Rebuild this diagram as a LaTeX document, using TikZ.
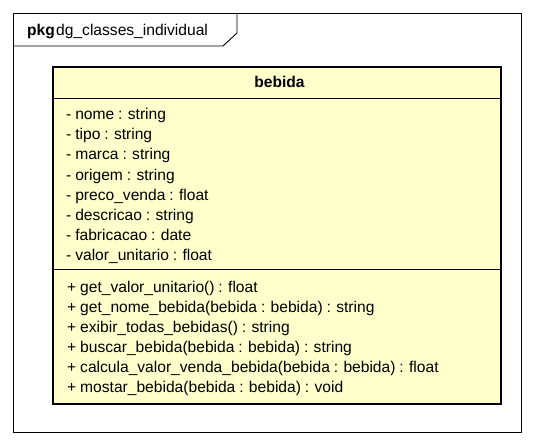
\documentclass[tikz,border=0pt]{standalone}
\usepackage{fontspec}
\setmainfont{Liberation Sans}[WordSpace=0.9]
\usetikzlibrary{positioning}
\definecolor{umlyellow}{HTML}{FFFFCC}
\tikzset{
    pkgframe/.style = {draw=black, line width=0.9pt},
    classbox/.style = {rectangle, draw=black, line width=2.6pt, fill=umlyellow, minimum width=448pt, minimum height=337pt, inner sep=0pt},
    sepline/.style = {draw=black, line width=0.9pt},
    member/.style = {anchor=base west, inner sep=0pt, font=\fontsize{15.6}{18}\selectfont},
    classname/.style = {anchor=base, inner sep=0pt, font=\fontsize{15.6}{18}\selectfont\bfseries},
    tabtext/.style = {anchor=base west, inner sep=0pt, font=\fontsize{15.6}{18}\selectfont}
}

\begin{document}
\begin{tikzpicture}[x=1pt, y=-1pt]
  \useasboundingbox (0,0) rectangle (534,446);

  % package frame with its tab
  \draw[pkgframe] (13,13) rectangle (521,432);
  \draw[pkgframe] (13,46) -- (223,46) -- (237,33) -- (237,13);
  \node[tabtext] (pkgkw) at (27,35.5) {\bfseries pkg};
  \node[tabtext] (pkgname) at (56,35.5) {dg\_classes\_individual};

  % class bebida
  \node[classbox] (bebida) at (277,235.5) {};
  \node[classname] (bebidaname) at (279.5,88) {bebida};
  \draw[sepline] (bebida.west |- 0,98) -- (bebida.east |- 0,98);
  \draw[sepline] (bebida.west |- 0,269) -- (bebida.east |- 0,269);

  % attributes
  \node[member] (a1) at (66,120) {- nome : string};
  \node[member] (a2) at (66,140) {- tipo : string};
  \node[member] (a3) at (66,160) {- marca : string};
  \node[member] (a4) at (66,180) {- origem : string};
  \node[member] (a5) at (66,200) {- preco\_venda : float};
  \node[member] (a6) at (66,220) {- descricao : string};
  \node[member] (a7) at (66,240) {- fabricacao : date};
  \node[member] (a8) at (66,260) {- valor\_unitario : float};

  % operations
  \node[member] (m1) at (67,292) {+ get\_valor\_unitario() : float};
  \node[member] (m2) at (67,312) {+ get\_nome\_bebida(bebida : bebida) : string};
  \node[member] (m3) at (67,332) {+ exibir\_todas\_bebidas() : string};
  \node[member] (m4) at (67,352) {+ buscar\_bebida(bebida : bebida) : string};
  \node[member] (m5) at (67,372) {+ calcula\_valor\_venda\_bebida(bebida : bebida) : float};
  \node[member] (m6) at (67,392) {+ mostar\_bebida(bebida : bebida) : void};
\end{tikzpicture}
\end{document}
